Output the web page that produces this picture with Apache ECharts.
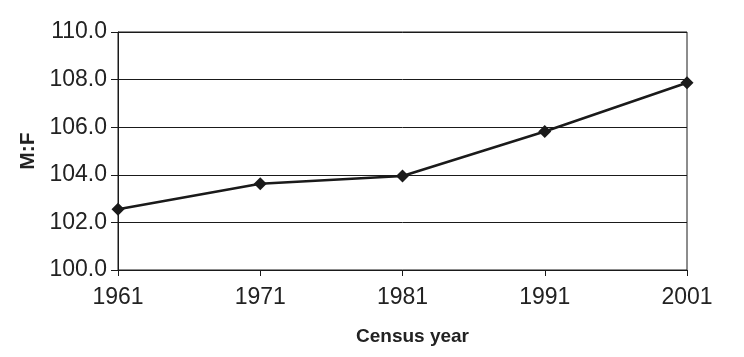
<!DOCTYPE html>
<html><head><meta charset="utf-8">
<script src="https://cdn.jsdelivr.net/npm/echarts@6/dist/echarts.min.js"></script>
<style>html,body{margin:0;padding:0;background:#fff}#c{width:744px;height:357px}</style>
</head><body><div id="c"></div>
<script>
const years = ['1961','1971','1981','1991','2001'];
const ratioMF = [102.55, 103.62, 103.95, 105.82, 107.87];
const yTicks = [100, 102, 104, 106, 108, 110];

const chart = echarts.init(document.getElementById('c'));
const font = '"Liberation Sans", Arial, sans-serif';
chart.setOption({
  animation: false,
  backgroundColor: '#fff',
  grid: {left: 118, top: 32, right: 57, bottom: 87, show: true, borderColor: '#1a1a1a', borderWidth: 1},
  xAxis: {
    type: 'category', data: years, boundaryGap: false,
    name: 'Census year', nameLocation: 'middle', nameGap: 57,
    nameTextStyle: {fontFamily: font, fontSize: 19, fontWeight: 'bold', color: '#222', padding: [0, 0, 0, 20]},
    axisLine: {lineStyle: {color: '#1a1a1a', width: 1}},
    axisTick: {show: true, inside: false, length: 6, alignWithLabel: true, lineStyle: {color: '#1a1a1a'}},
    axisLabel: {fontFamily: font, fontSize: 23, color: '#222', margin: 16},
    splitLine: {show: false}
  },
  yAxis: {
    type: 'value', min: yTicks[0], max: yTicks[yTicks.length-1], interval: 2,
    name: 'M:F', nameLocation: 'middle', nameGap: 78, nameRotate: 90,
    nameTextStyle: {fontFamily: font, fontSize: 21, fontWeight: 'bold', color: '#222'},
    axisLine: {show: true, lineStyle: {color: '#1a1a1a', width: 1}},
    axisTick: {show: true, length: 7, lineStyle: {color: '#1a1a1a'}},
    axisLabel: {fontFamily: font, fontSize: 23, color: '#222', margin: 11, formatter: v => v.toFixed(1)},
    splitLine: {show: true, lineStyle: {color: '#1a1a1a', width: 1}}
  },
  series: [{
    type: 'line', data: ratioMF,
    symbol: 'diamond', symbolSize: 13,
    lineStyle: {color: '#1a1a1a', width: 2.5},
    itemStyle: {color: '#1a1a1a'}
  }]
});
</script></body></html>
